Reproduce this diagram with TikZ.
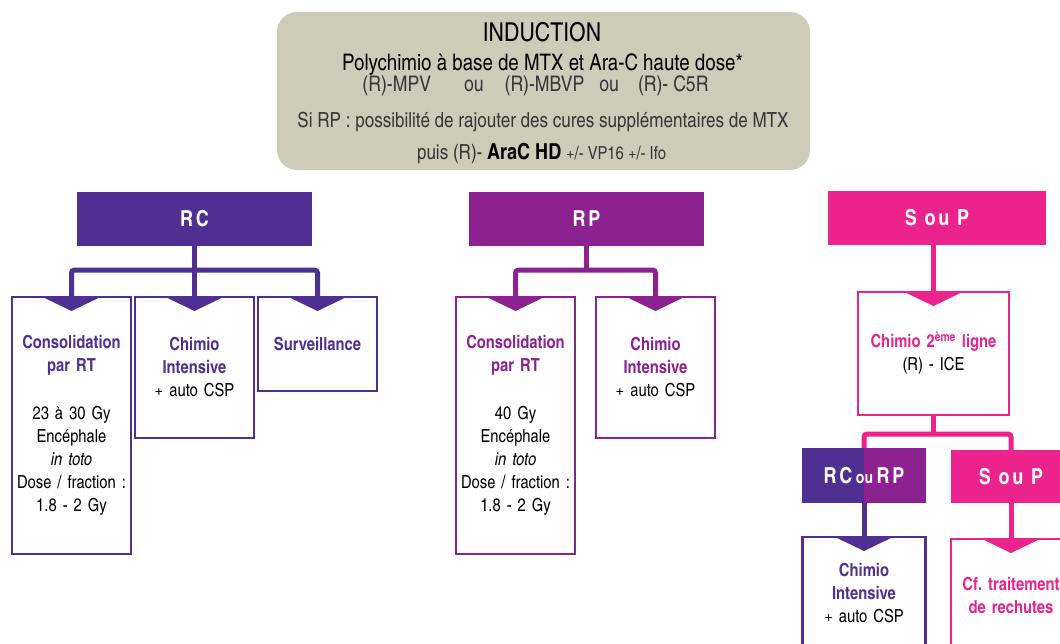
\documentclass[tikz,border=0pt]{standalone}
\usepackage{fontspec}
\setmainfont{texgyreheroscn-regular.otf}[BoldFont=texgyreheroscn-bold.otf,ItalicFont=texgyreheroscn-italic.otf,BoldItalicFont=texgyreheroscn-bolditalic.otf]
\usepackage{tikz}
\usetikzlibrary{positioning}
\frenchspacing

\definecolor{rccol}{RGB}{79,47,145}
\definecolor{rpcol}{RGB}{139,34,144}
\definecolor{spcol}{RGB}{236,34,141}
\definecolor{indcol}{RGB}{205,204,185}
\definecolor{greytext}{RGB}{55,55,55}
\newcommand{\celltitle}[2]{{\color{#1}\bfseries #2}}

\begin{document}
\begin{tikzpicture}[x=1pt,y=-1pt,
  head/.style={fill=#1,text=white,minimum height=54pt,inner sep=0pt,outer sep=0pt,
    font=\fontsize{22}{22}\selectfont\bfseries\addfontfeatures{LetterSpace=12}},
  cell/.style={draw=#1,line width=2.2pt,fill=white,anchor=north,inner sep=0pt,outer sep=0pt,
    align=center,text width=116pt,font=\fontsize{18}{23}\selectfont},
  link/.style={draw=#1,line width=5pt,rounded corners=3pt},
  indline/.style={anchor=base,inner sep=0pt,text=greytext,font=\fontsize{20.8}{20.8}\selectfont}]
\useasboundingbox (0,0) rectangle (1060,643);
\clip (0,0) rectangle (1060,643);
% induction
\node [fill=indcol,rounded corners=20pt,minimum width=533pt,minimum height=158pt,inner sep=0pt] (ind) at (543.5,91) {};
\node [indline,text=black,font=\fontsize{26}{26}\selectfont] (indtitle) at (542,41) {INDUCTION};
\node [indline,text=black,font=\fontsize{22.8}{22.8}\selectfont] (indpoly) at (542.5,70) {Polychimio à base de MTX et Ara-C haute dose*};
\node [indline,font=\fontsize{21.5}{21.5}\selectfont] (indreg) at (535.5,91) {(R)-MPV\hspace{33pt}ou\hspace{21pt}(R)-MBVP\hspace{15pt}ou\hspace{19pt}(R)- C5R};
\node [indline] (indrp) at (543,127) {Si RP : possibilité de rajouter des cures supplémentaires de MTX};
\node [indline] (indara) at (541.5,159) {puis (R)- {\color{black}\bfseries\fontsize{22}{22}\selectfont AraC HD} {\fontsize{18}{18}\selectfont +/- VP16 +/- Ifo}};
% headers
\node [head=rccol,minimum width=235pt] (rc) at (194.5,219) {RC};
\node [head=rpcol,minimum width=235pt] (rp) at (586.5,219) {RP};
\node [head=spcol,minimum width=218pt] (sp) at (937,218) {S~ou~P};
% RC branch
\node [cell=rccol,minimum width=119pt,minimum height=257pt] (rc1) at (71.5,297)
  {\celltitle{rccol}{Consolidation}\\\celltitle{rccol}{par RT}\\[25pt]23 à 30 Gy\\Encéphale\\\textit{in toto}\\Dose / fraction :\\1.8 - 2 Gy};
\node [cell=rccol,minimum width=119pt,minimum height=141pt] (rc2) at (194.5,297)
  {\celltitle{rccol}{Chimio}\\\celltitle{rccol}{Intensive}\\+ auto CSP};
\node [cell=rccol,minimum width=119pt,minimum height=94pt] (rc3) at (317.5,297)
  {\celltitle{rccol}{Surveillance}};
% RP branch
\node [cell=rpcol,minimum width=119pt,minimum height=257pt] (rp1) at (515.5,297)
  {\celltitle{rpcol}{Consolidation}\\\celltitle{rpcol}{par RT}\\[25pt]40 Gy\\Encéphale\\\textit{in toto}\\Dose / fraction :\\1.8 - 2 Gy};
\node [cell=rpcol,minimum width=119pt,minimum height=141pt] (rp2) at (655.5,297)
  {\celltitle{rpcol}{Chimio}\\\celltitle{rpcol}{Intensive}\\+ auto CSP};
% S ou P branch
\node [cell=spcol,minimum width=151pt,minimum height=123pt,text width=146pt] (sp1) at (933.5,292)
  {\celltitle{spcol}{Chimio 2\textsuperscript{ème} ligne}\\(R) - ICE};
\node [head=rccol,minimum width=124pt,minimum height=55pt,
  path picture={\fill[rpcol] (path picture bounding box.north) rectangle (path picture bounding box.south east);}]
  (rcrp) at (864,475.5) {RC\,{\fontsize{17}{17}\selectfont\addfontfeatures{LetterSpace=0}ou}\,RP};
\node [head=spcol,minimum width=120pt,minimum height=53pt] (sp2) at (1011,476.5) {S~ou~P};
\node [cell=rccol,minimum width=123pt,minimum height=113pt] (cr1) at (864,537)
  {\celltitle{rccol}{Chimio}\\\celltitle{rccol}{Intensive}\\+ auto CSP};
\node [cell=spcol,minimum width=120pt,minimum height=113pt] (cr2) at (1011,539)
  {\celltitle{spcol}{Cf. traitement}\\\celltitle{spcol}{de rechutes}};
% connectors
\coordinate (rcbar) at (194.5,270);
\coordinate (rpbar) at (586.5,270);
\coordinate (spbar) at (933.5,434);
\draw [link=rccol] (rc1.north) |- (rcbar) -| (rc3.north);
\draw [link=rccol] (rc.south) -- (rc2.north);
\draw [link=rpcol] (rp1.north) |- (rpbar) -| (rp2.north);
\draw [link=rpcol] (rp.south) -- (rpbar);
\draw [link=spcol] (sp.south -| sp1.north) -- (sp1.north);
\draw [link=spcol] (rcrp.north) |- (spbar) -| (sp2.north);
\draw [link=spcol] (sp1.south) -- (spbar);
\draw [link=rccol] (rcrp.south) -- (cr1.north);
\draw [link=spcol] (sp2.south) -- (cr2.north);
% notches
\foreach \n/\c in {rc1/rccol,rc2/rccol,rc3/rccol,rp1/rpcol,rp2/rpcol,sp1/spcol,cr1/rccol,cr2/spcol}
  \fill [\c] (\n.north) ++(-29,0) -- ++(58,0) -- ++(-29,14) -- cycle;
\end{tikzpicture}
\end{document}
